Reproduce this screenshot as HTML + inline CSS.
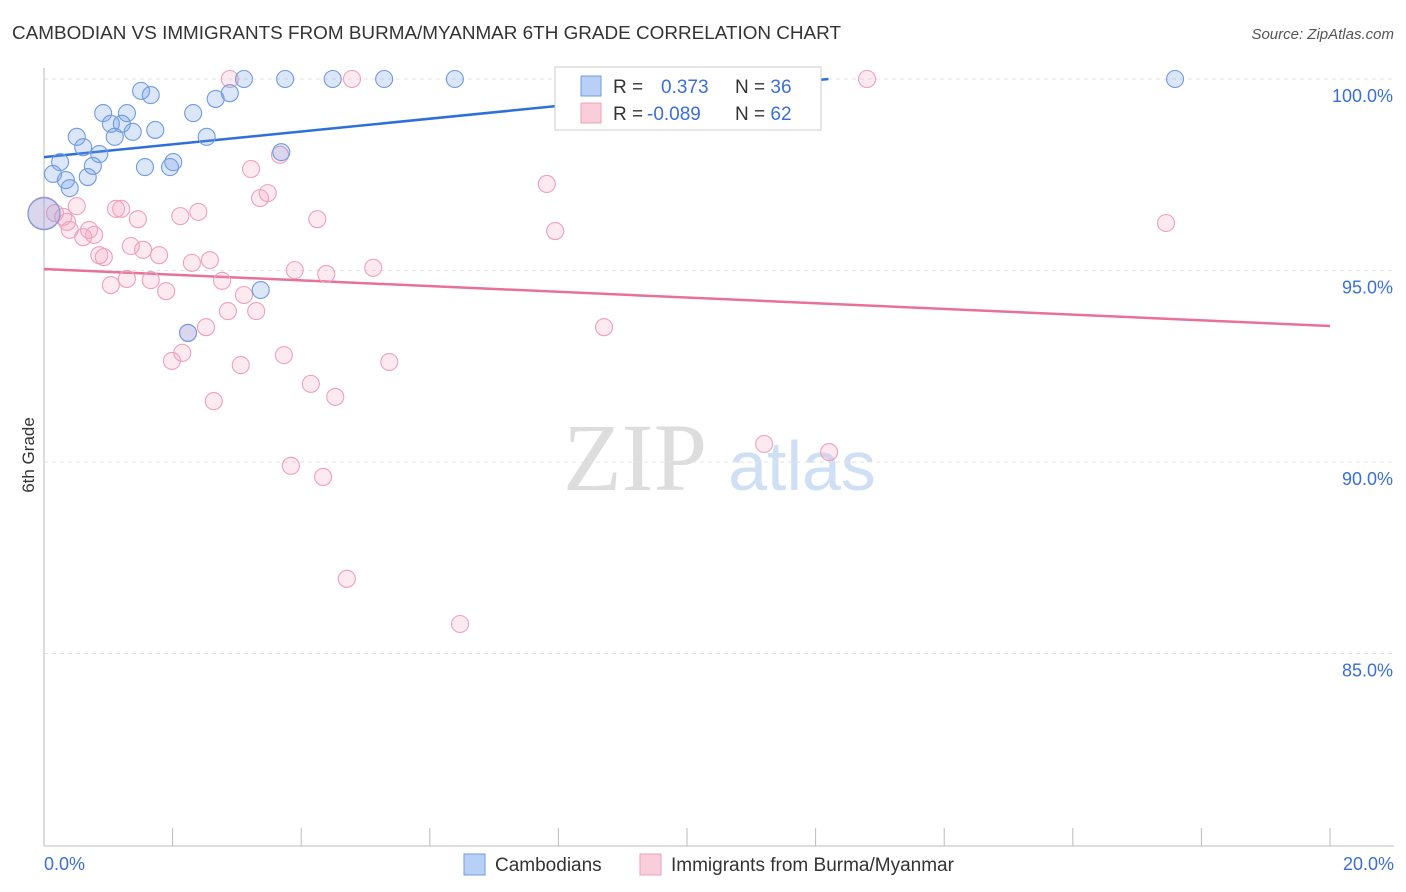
<!DOCTYPE html>
<html><head><meta charset="utf-8"><style>
body{margin:0;background:#fff;font-family:"Liberation Sans",sans-serif;}
svg{display:block}
</style></head><body>
<svg id="chart" width="1406" height="892">
<text x="12" y="39" font-size="18" fill="#333" textLength="829" lengthAdjust="spacingAndGlyphs">CAMBODIAN VS IMMIGRANTS FROM BURMA/MYANMAR 6TH GRADE CORRELATION CHART</text>
<text x="1394" y="39" font-size="15" fill="#555" text-anchor="end" font-style="italic">Source: ZipAtlas.com</text>
<text x="34" y="455" font-size="17" fill="#333" text-anchor="middle" transform="rotate(-90 34 455)">6th Grade</text>
<g>
<text x="635" y="490" font-size="96" fill="#ddd" text-anchor="middle" font-family="Liberation Serif,serif">ZIP</text>
<text x="802" y="490" font-size="70" fill="#cfe0f5" text-anchor="middle">atlas</text>
</g>
<g id="grid"></g><g id="axes"></g><g id="lines"></g><g id="pts"></g>
<g>
<rect x="555" y="67" width="266" height="63" fill="#fff" stroke="#ccc"/>
<rect x="581" y="76" width="20" height="20" fill="#b8d0f5" stroke="#6f9be0"/>
<rect x="581" y="103" width="20" height="20" fill="#f9cdd9" stroke="#eea0ba"/>
<text x="613" y="93" font-size="19" fill="#333">R = <tspan fill="#3b6fd6" x="661">0.373</tspan><tspan x="735" fill="#333">N = </tspan><tspan fill="#3b6fd6">36</tspan></text>
<text x="613" y="120" font-size="19" fill="#333">R = <tspan fill="#3b6fd6" x="647">-0.089</tspan><tspan x="735" fill="#333">N = </tspan><tspan fill="#3b6fd6">62</tspan></text>
</g>
<g>
<rect x="464" y="854" width="21" height="21" fill="#b8d0f5" stroke="#6f9be0"/>
<text x="495" y="871" font-size="19" fill="#333">Cambodians</text>
<rect x="640" y="854" width="21" height="21" fill="#f9cdd9" stroke="#eea0ba"/>
<text x="671" y="871" font-size="19" fill="#333">Immigrants from Burma/Myanmar</text>
</g>
</svg>
<script>
const yTicks=[85,90,95,100];
const yTickLabels=["85.0%","90.0%","95.0%","100.0%"];
const xTicks=[0,2,4,6,8,10,12,14,16,18,20];
const blueX=[1.51,1.66,3.11,3.75,4.49,5.29,6.39,8.66,17.59,2.67,2.89,0.92,1.29,2.32,0.51,1.04,1.21,1.38,1.73,1.10,2.53,0.61,0.86,0.25,0.76,1.57,1.96,2.01,3.69,0.14,0.34,0.40,0.68,0,3.37,2.24];
const blueY=[99.69,99.58,100,100,100,100,100,100,100,99.48,99.63,99.11,99.11,99.11,98.49,98.83,98.83,98.62,98.67,98.49,98.49,98.22,98.04,97.83,97.73,97.70,97.70,97.83,98.09,97.52,97.36,97.15,97.44,96.48,94.49,93.37];
const pinkX=[2.89,4.79,9.95,12.8,0,0.17,0.30,0.36,0.40,0.51,0.61,0.70,0.78,0.86,0.93,1.04,1.12,1.20,1.29,1.35,1.46,1.54,1.66,1.79,1.90,1.99,2.12,2.15,2.24,2.30,2.40,2.52,2.58,2.64,2.77,2.86,3.06,3.11,3.22,3.30,3.36,3.48,3.67,3.73,3.84,3.90,4.15,4.25,4.34,4.39,4.53,4.71,5.12,5.37,6.47,7.82,7.95,8.71,11.2,12.21,17.45];
const pinkY=[100,100,100,100,96.5,96.5,96.4,96.27,96.06,96.68,95.87,96.06,95.93,95.40,95.35,94.62,96.61,96.61,94.78,95.64,96.34,95.54,94.75,95.40,94.46,92.64,96.42,92.85,93.37,95.20,96.53,93.52,95.27,91.59,94.73,93.94,92.53,94.36,97.65,93.94,96.89,97.02,98.02,92.79,89.90,95.01,92.04,96.34,89.61,94.91,91.70,86.95,95.07,92.61,85.77,97.26,96.03,93.52,90.47,90.26,96.24];
const blueLine=[0,97.96,12.2,100];
const pinkLine=[0,95.04,20,93.55];
const NS="http://www.w3.org/2000/svg";
const X=v=>44+v/20*1286, Y=v=>79+(100-v)*38.3;
function mk(p,t,a){const e=document.createElementNS(NS,t);for(const k in a)e.setAttribute(k,a[k]);p.appendChild(e);return e;}
const g=document.getElementById('grid'),ax=document.getElementById('axes'),ln=document.getElementById('lines'),pts=document.getElementById('pts');
yTicks.forEach((t,i)=>{
 const l=mk(g,'line',{x1:44,x2:1394,y1:Y(t),y2:Y(t),stroke:'#e3e3e3','stroke-dasharray':'4 4'});
 
 
 const tx=mk(ax,'text',{x:1393,y:Y(t)+23,'font-size':18,fill:'#3b6fd6','text-anchor':'end'});
 tx.textContent=yTickLabels[i];
 
 
});
mk(ax,'line',{x1:44,x2:44,y1:68,y2:846,stroke:'#bbb'});
mk(ax,'line',{x1:44,x2:1394,y1:846,y2:846,stroke:'#bbb'});
xTicks.forEach(t=>{const l=mk(ax,'line',{x1:X(t),x2:X(t),y1:828,y2:846,stroke:'#bbb'});
 
 });
let t0=mk(ax,'text',{x:44,y:870,'font-size':18,fill:'#3b6fd6'});t0.textContent='0.0%';


let t1=mk(ax,'text',{x:1394,y:870,'font-size':18,fill:'#3b6fd6','text-anchor':'end'});t1.textContent='20.0%';


function dots(xs,ys,fill,stroke,name){xs.forEach((x,i)=>{const big=(x===0);
 const c=mk(pts,'circle',{cx:X(x),cy:Y(ys[i]),r:big?16:8.5,fill:fill,stroke:stroke,'stroke-width':1.1});
 
 });}
dots(pinkX,pinkY,'rgba(244,160,188,0.22)','#eea0ba','pink-point');
dots(blueX,blueY,'rgba(110,155,230,0.25)','#6f9be0','blue-point');
const bl=mk(ln,'line',{x1:X(blueLine[0]),y1:Y(blueLine[1]),x2:X(blueLine[2]),y2:Y(blueLine[3]),stroke:'#2e6fd8','stroke-width':2.5});


const pl=mk(ln,'line',{x1:X(pinkLine[0]),y1:Y(pinkLine[1]),x2:X(pinkLine[2]),y2:Y(pinkLine[3]),stroke:'#e8709a','stroke-width':2.5});


</script>
</body></html>
